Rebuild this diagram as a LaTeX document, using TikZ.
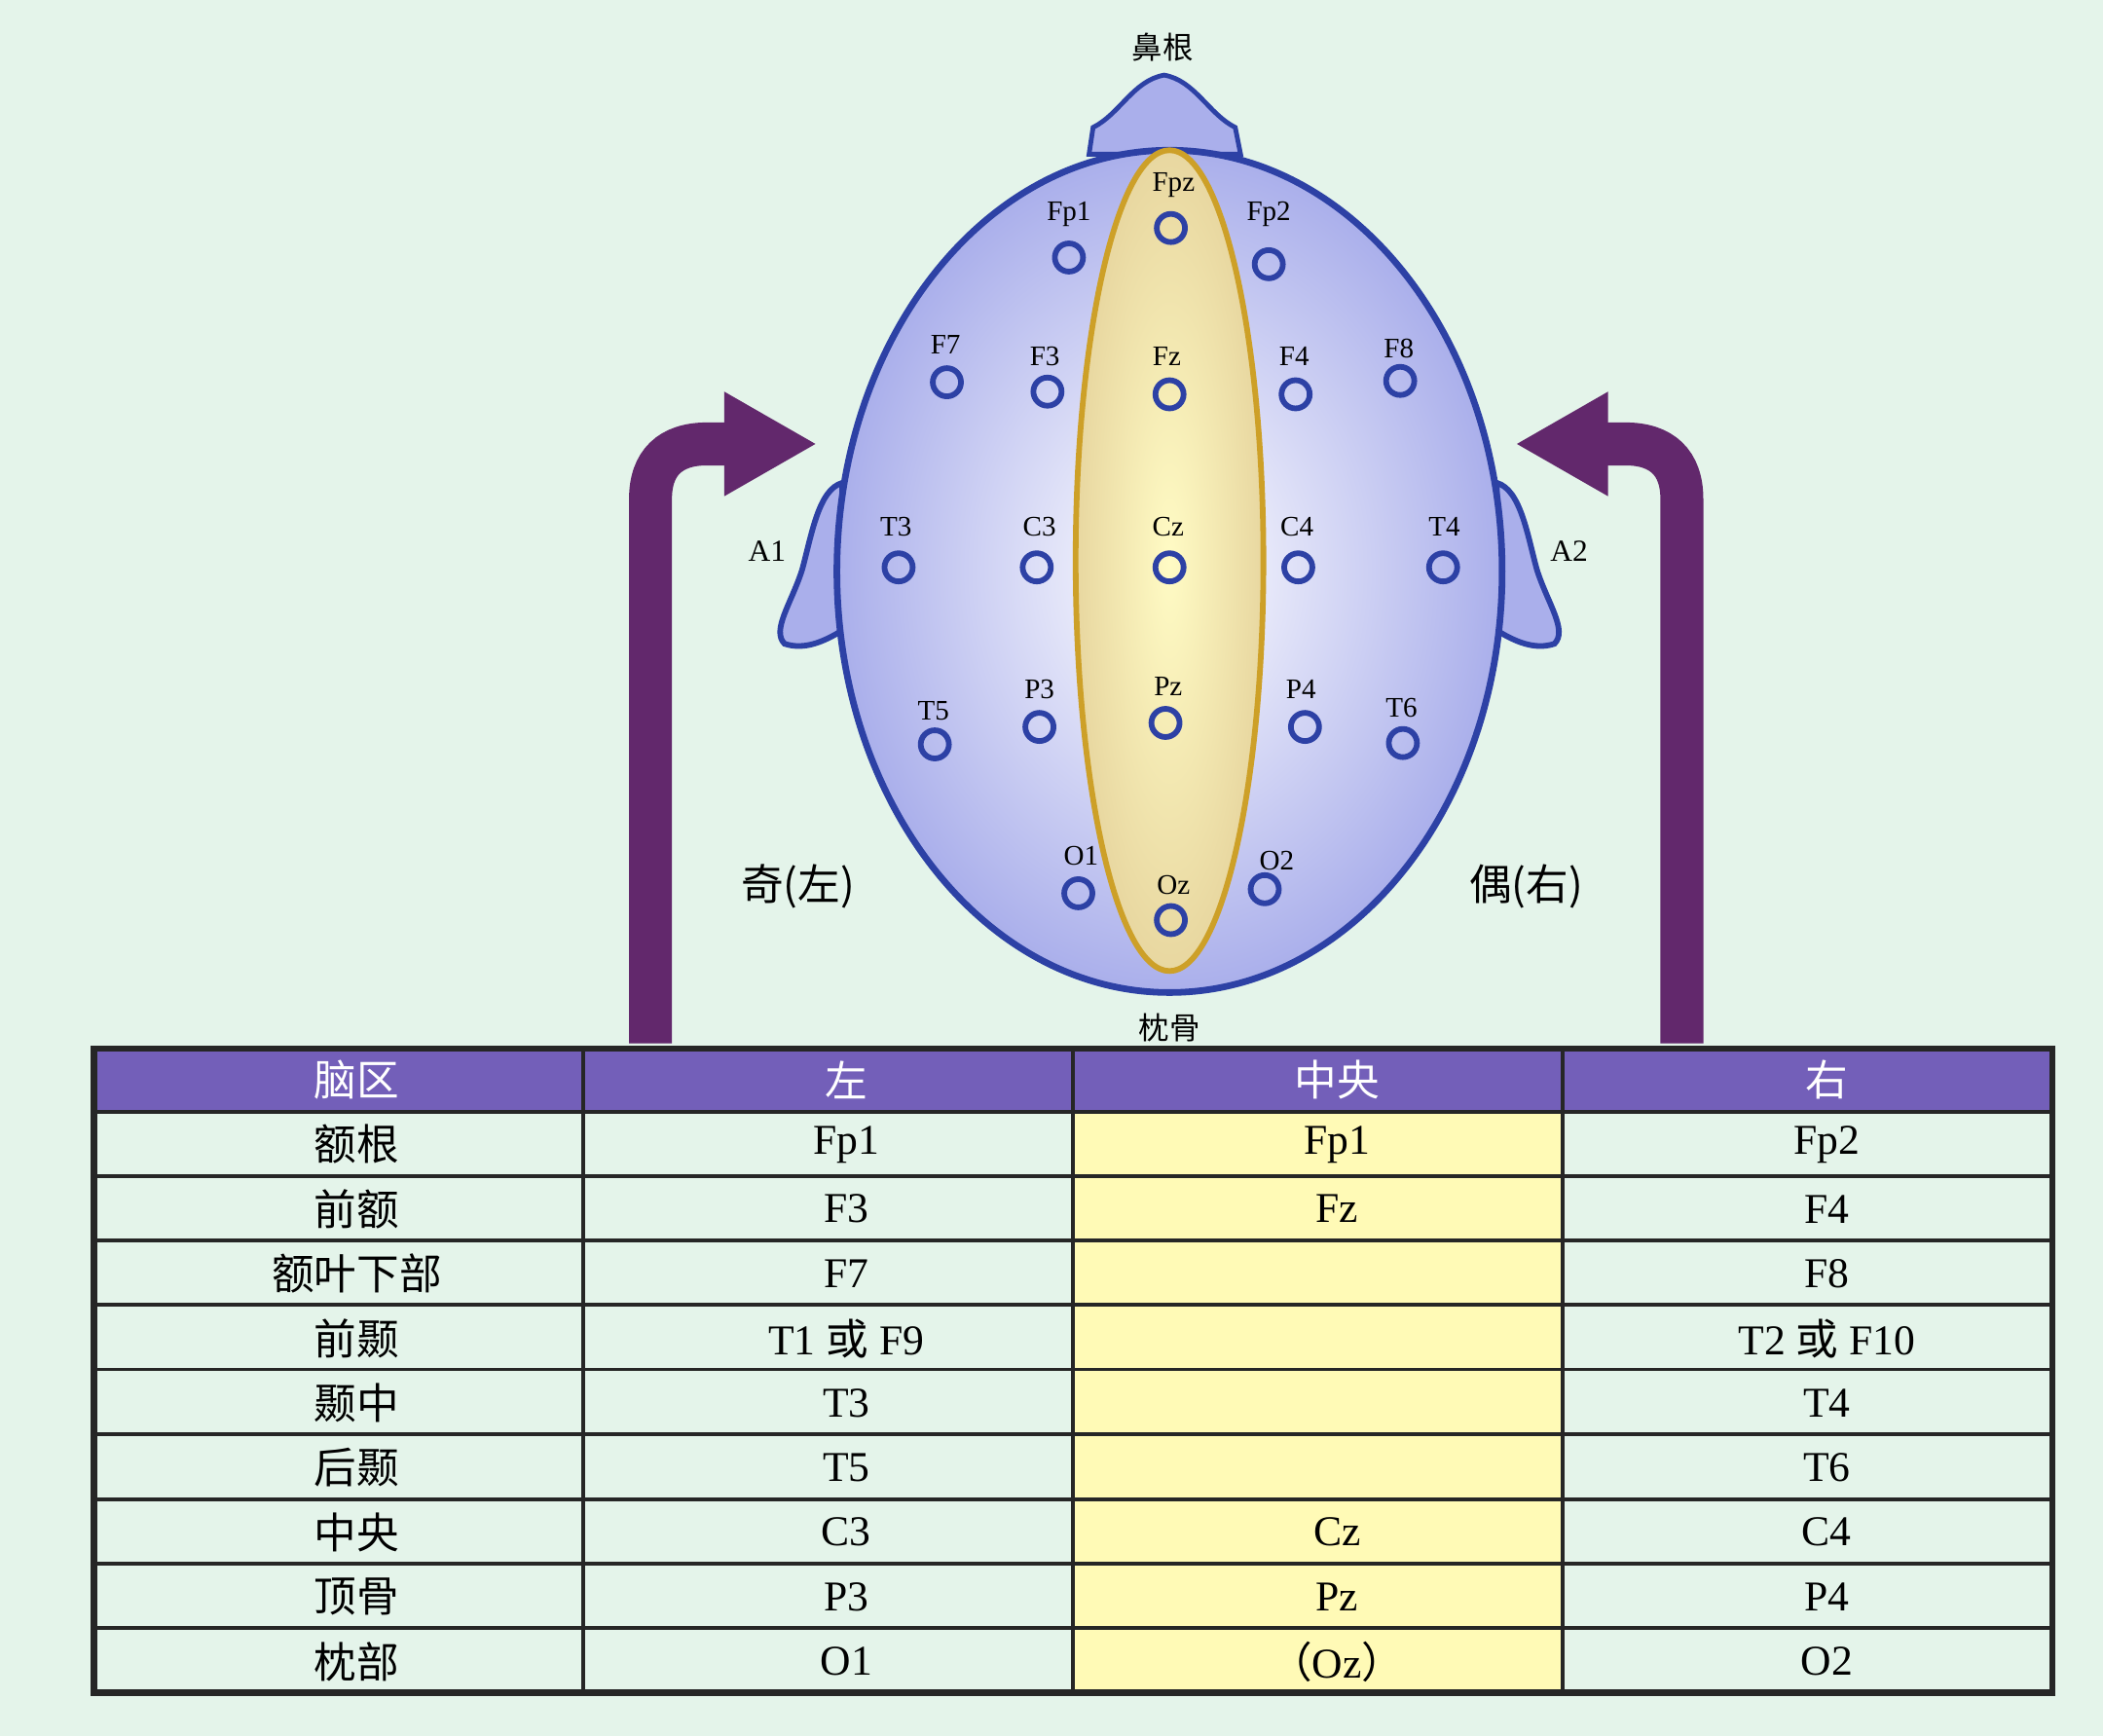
\documentclass[tikz,border=0pt]{standalone}
\usepackage{fontspec}
\setmainfont{Liberation Serif}
\newfontfamily\cjk{Noto Sans CJK SC}
\begin{document}
\begin{tikzpicture}[x=0.01cm,y=-0.01cm,
  el/.style={circle,draw=elblue,line width=1.2pt,minimum size=0.21cm,inner sep=0pt},
  lab/.style={font=\fontsize{6}{7}\selectfont,inner sep=0pt},
  tb/.style={font=\fontsize{9}{10}\selectfont},
  arr/.style={draw=arrp,line width=0.32cm}]
\definecolor{bg}{RGB}{228,244,234}
\definecolor{elblue}{RGB}{45,65,165}
\definecolor{headc}{RGB}{170,175,235}
\definecolor{arrp}{RGB}{98,40,108}
\definecolor{hdr}{RGB}{115,95,185}
\definecolor{yel}{RGB}{255,250,182}
\definecolor{mid}{RGB}{232,215,160}
\fill[bg] (0,0) rectangle (1568,1294);
\useasboundingbox (0,0) rectangle (1568,1294);
% arrows
\draw[arr] (485,778) -- (485,372) .. controls (485,345) and (500,331) .. (527,331) -- (545,331);
\fill[arrp] (540,292) -- (608,331) -- (540,370) -- cycle;
\draw[arr] (1254,778) -- (1254,372) .. controls (1254,345) and (1239,331) .. (1212,331) -- (1195,331);
\fill[arrp] (1199,292) -- (1131,331) -- (1199,370) -- cycle;
% nose
\draw[elblue,fill=headc,line width=1pt] (812,115) -- (815,95) .. controls (835,85) and (845,60) .. (868,56) .. controls (891,60) and (901,85) .. (921,95) -- (925,115) -- cycle;
% ears
\draw[elblue,fill=headc,line width=1.2pt] (628,360) .. controls (610,365) and (605,400) .. (598,425) .. controls (590,450) and (575,470) .. (585,480) .. controls (600,485) and (615,478) .. (628,470) -- cycle;
\draw[elblue,fill=headc,line width=1.2pt] (1116,360) .. controls (1134,365) and (1139,400) .. (1146,425) .. controls (1154,450) and (1169,470) .. (1159,480) .. controls (1144,485) and (1129,478) .. (1116,470) -- cycle;
% head
\shade[inner color=white,outer color=headc] (872,426) ellipse [x radius=248,y radius=314];
\draw[elblue,line width=1.4pt] (872,426) ellipse [x radius=248,y radius=314];
\shade[inner color=yel!80!white,outer color=mid,draw=none] (872,418) ellipse [x radius=70,y radius=306];
\draw[draw={rgb,255:red,205;green,160;blue,40},line width=1.2pt] (872,418) ellipse [x radius=70,y radius=306];
% electrodes
\foreach \n/\x/\y/\lx/\ly in {Fpz/873/170/875/138, Fp1/797/192/797/160, Fp2/946/197/946/160,
 F7/706/285/705/257, F3/781/292/779/266, Fz/872/294/870/266, F4/966/294/965/266, F8/1044/284/1043/260,
 T3/670/423/668/393, C3/773/423/775/393, Cz/872/423/871/393, C4/968/423/967/393, T4/1076/423/1077/393,
 T5/697/555/696/530, P3/775/542/775/514, Pz/869/539/871/512, P4/973/542/970/514, T6/1046/554/1045/528,
 O1/804/666/806/638, Oz/873/686/875/660, O2/943/663/952/642}
 { \node[el] (e\n) at (\x,\y) {}; \node[lab] (l\n) at (\lx,\ly) {\n}; }
\node[lab,font=\fontsize{6.5}{7}\selectfont] (a1) at (572,411) {A1};
\node[lab,font=\fontsize{6.5}{7}\selectfont] (a2) at (1170,411) {A2};
\node[lab,font=\fontsize{6.5}{7}\selectfont\cjk] (nose) at (867,35) {鼻根};
\node[lab,font=\fontsize{6.5}{7}\selectfont\cjk] (occ) at (872,766) {枕骨};
\node[font=\fontsize{9}{10}\selectfont\cjk] (odd) at (595,661) {奇(左)};
\node[font=\fontsize{9}{10}\selectfont\cjk] (even) at (1138,661) {偶(右)};
% table
\fill[hdr] (70,782) rectangle (1530,829);
\fill[yel] (800,829) rectangle (1165,1262);
\foreach \y in {829,877,925,973,1021,1069,1118,1166,1214} \draw[black!85,line width=0.8pt] (70,\y) -- (1530,\y);
\foreach \x in {435,800,1165} \draw[black!85,line width=0.8pt] (\x,782) -- (\x,1262);
\draw[black!85,line width=1.3pt] (70,782) rectangle (1530,1262);
\foreach \t/\cx [count=\i] in {脑区/266,左/631,中央/997,右/1362}
  \node[tb,text=white,font=\fontsize{9}{10}\selectfont\cjk] (h\i) at (\cx,805) {\t};
\foreach \a/\b/\c/\d [count=\r] in {额根/Fp1/Fp1/Fp2, 前额/F3/Fz/F4, 额叶下部/F7/{}/F8, 前颞/T1 {\cjk 或} F9/{}/T2 {\cjk 或} F10,
  颞中/T3/{}/T4, 后颞/T5/{}/T6, 中央/C3/Cz/C4, 顶骨/P3/Pz/P4, 枕部/O1/{\cjk （}Oz{\cjk ）}/O2}
 { \pgfmathsetmacro\yy{829+48.2*\r-24}
   \node[tb,font=\fontsize{9}{10}\selectfont\cjk] (r\r a) at (266,\yy) {\a};
   \node[tb] (r\r b) at (631,\yy) {\b};
   \node[tb] (r\r c) at (997,\yy) {\c};
   \node[tb] (r\r d) at (1362,\yy) {\d}; }
\end{tikzpicture}
\end{document}
